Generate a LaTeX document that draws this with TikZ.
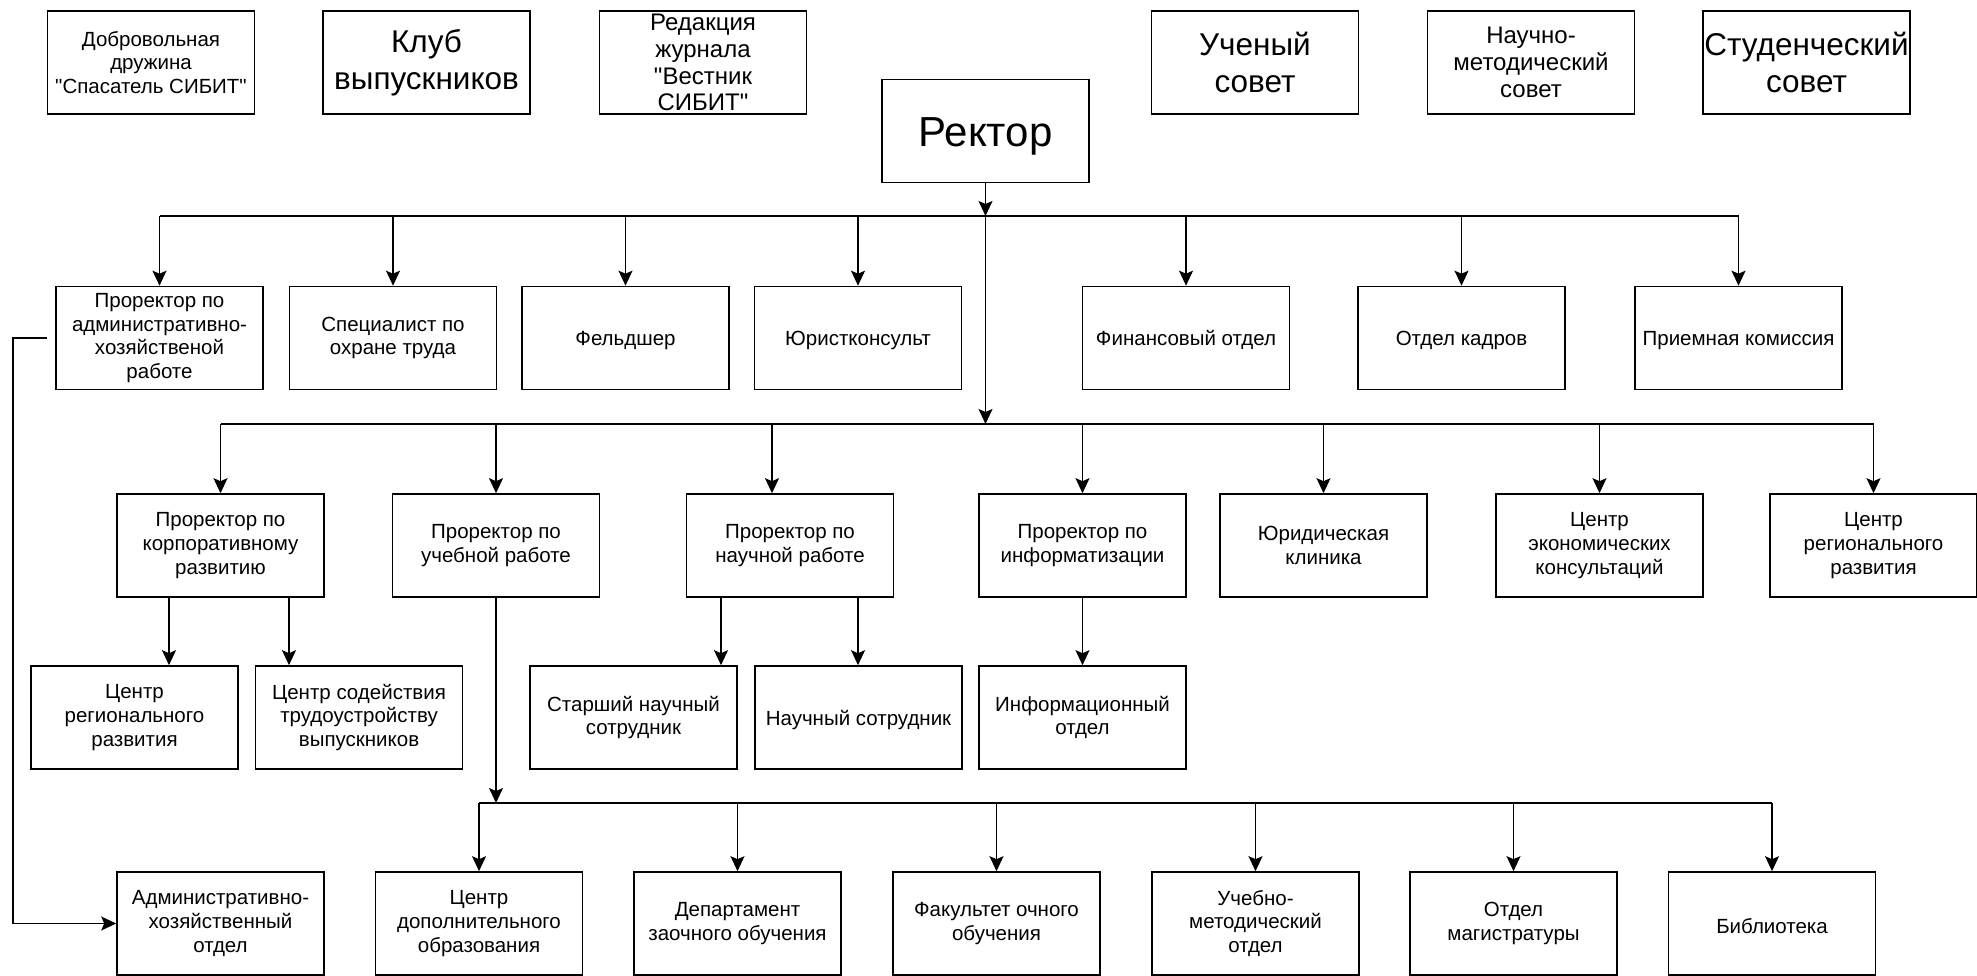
\documentclass[tikz,border=0pt]{standalone}
\usepackage{fontspec}
\setmainfont{Liberation Sans}[Ligatures=TeXOff]
\usetikzlibrary{arrows.meta}
\newcommand\fntNorm{\fontsize{20.5pt}{23.8pt}\selectfont}
\newcommand\fntMid{\fontsize{24pt}{26.8pt}\selectfont}
\newcommand\fntBig{\fontsize{31.5pt}{36.7pt}\selectfont}
\newcommand\fntHuge{\fontsize{42pt}{48pt}\selectfont}
\begin{document}
\begin{tikzpicture}[x=1pt,y=-1pt,
  box/.style={draw, line width=1.6pt, minimum width=207pt, minimum height=103pt,
    inner xsep=0pt, inner ysep=0pt, align=center, font=\fntNorm,
    execute at begin node={\rule{0pt}{20pt}}},
  fTop/.style={execute at begin node={}},
  fMid/.style={font=\fntMid, execute at begin node={}},
  fBig/.style={font=\fntBig, execute at begin node={\rule{0pt}{38pt}}},
  fHuge/.style={font=\fntHuge, execute at begin node={\rule{0pt}{40pt}}},
  ln/.style={line width=1.4pt},
  arr/.style={line width=1.4pt, -{Stealth[length=15pt,width=14pt,inset=3pt]}}]
\useasboundingbox (0,0) rectangle (1977,976);
% top row
\node[box,fTop] (dobr) at (151,62.5) {Добровольная\\дружина\\"Спасатель СИБИТ"};
\node[box,fBig] (klub) at (426.5,62.5) {Клуб\\выпускников};
\node[box,fMid] (red) at (703,62.5) {Редакция\\журнала\\"Вестник\\СИБИТ"};
\node[box,fHuge] (rector) at (985.5,131) {Ректор};
\node[box,fBig] (uch) at (1255,62.5) {Ученый\\совет};
\node[box,fMid] (nms) at (1531,62.5) {Научно-\\методический\\совет};
\node[box,fBig] (stud) at (1806.5,62.5) {Студенческий\\совет};
% row 2
\node[box] (pa) at (159.5,338) {Проректор по\\административно-\\хозяйственой\\работе};
\node[box] (spec) at (393,338) {Специалист по\\охране труда};
\node[box] (feld) at (625.5,338) {Фельдшер};
\node[box] (jur) at (858,338) {Юристконсульт};
\node[box] (fin) at (1186,338) {Финансовый отдел};
\node[box] (kadr) at (1461.5,338) {Отдел кадров};
\node[box] (priem) at (1738.5,338) {Приемная комиссия};
% row 3
\node[box] (pk) at (220.5,545.5) {Проректор по\\корпоративному\\развитию};
\node[box] (pu) at (496,545.5) {Проректор по\\учебной работе};
\node[box] (pn) at (790,545.5) {Проректор по\\научной работе};
\node[box] (pi) at (1082.5,545.5) {Проректор по\\информатизации};
\node[box] (jk) at (1323.5,545.5) {Юридическая\\клиника};
\node[box] (ce) at (1599.5,545.5) {Центр\\экономических\\консультаций};
\node[box] (cr) at (1873.5,545.5) {Центр\\регионального\\развития};
% row 4
\node[box] (crr) at (134.5,717.5) {Центр\\регионального\\развития};
\node[box] (csod) at (359,717.5) {Центр содействия\\трудоустройству\\выпускников};
\node[box] (snr) at (633.5,717.5) {Старший научный\\сотрудник};
\node[box] (ns) at (858.5,717.5) {Научный сотрудник};
\node[box] (io) at (1082.5,717.5) {Информационный\\отдел};
% row 5
\node[box] (aho) at (220.5,923.5) {Административно-\\хозяйственный\\отдел};
\node[box] (cdo) at (479,923.5) {Центр\\дополнительного\\образования};
\node[box] (dzo) at (737.5,923.5) {Департамент\\заочного обучения};
\node[box] (foo) at (996.5,923.5) {Факультет очного\\обучения};
\node[box] (umo) at (1255.5,923.5) {Учебно-\\методический\\отдел};
\node[box] (om) at (1513.5,923.5) {Отдел\\магистратуры};
\node[box] (bib) at (1772,923.5) {Библиотека};
% helper coordinates
\coordinate (b1) at (985.5,216);
\coordinate (b2) at (985.5,424);
\coordinate (y3) at (0,803);
\coordinate (L) at (13,0);
% rector to buses
\draw[arr] (rector.south) -- (b1);
\draw[arr] (b1) -- (b2);
% bus 1
\draw[ln] (pa.north |- b1) -- (priem.north |- b1);
\foreach \n in {pa,spec,feld,jur,fin,kadr,priem}
  \draw[arr] (\n.north |- b1) -- (\n.north);
% bus 2
\draw[ln] (pk.north |- b2) -- (cr.north |- b2);
\foreach \n in {pk,pu,pi,jk,ce,cr}
  \draw[arr] (\n.north |- b2) -- (\n.north);
\coordinate (pnt) at ([xshift=-18pt]pn.north);
\draw[arr] (pnt |- b2) -- (pnt);
% row 3 to row 4
\coordinate (k1) at ([xshift=-51.5pt]pk.south);
\coordinate (k2) at ([xshift=68.5pt]pk.south);
\draw[arr] (k1) -- (k1 |- crr.north);
\draw[arr] (k2) -- (k2 |- csod.north);
\coordinate (n1) at ([xshift=-69pt]pn.south);
\coordinate (n2) at ([xshift=68pt]pn.south);
\draw[arr] (n1) -- (n1 |- snr.north);
\draw[arr] (n2) -- (n2 |- ns.north);
\draw[arr] (pi) -- (io);
% bus 3
\draw[arr] (pu.south) -- (pu.south |- y3);
\draw[ln] (cdo.north |- y3) -- (bib.north |- y3);
\foreach \n in {cdo,dzo,foo,umo,om,bib}
  \draw[arr] (\n.north |- y3) -- (\n.north);
% left connector
\draw[arr] ([xshift=-8pt]pa.west) -- (pa.west -| L) -- (L |- aho.west) -- (aho.west);
\end{tikzpicture}
\end{document}
